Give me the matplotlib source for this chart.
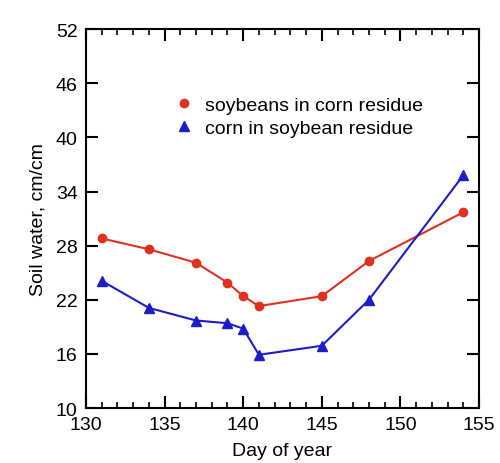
import matplotlib
matplotlib.use("Agg")
import matplotlib.pyplot as plt
from matplotlib.ticker import MultipleLocator

plt.rcParams['font.family'] = ['Liberation Sans', 'DejaVu Sans']

days = [131, 134, 137, 139, 140, 141, 145, 148, 154]
soy_in_corn = [28.8, 27.6, 26.1, 23.9, 22.4, 21.3, 22.4, 26.3, 31.7]
corn_in_soy = [24.1, 21.1, 19.7, 19.4, 18.8, 15.9, 16.9, 22.0, 35.8]
xticks = [130, 135, 140, 145, 150, 155]
yticks = [10, 16, 22, 28, 34, 40, 46, 52]

fig = plt.figure(figsize=(5.0, 4.64), dpi=100)
ax = fig.add_axes([0.172, 0.1185, 0.786, 0.8165])

ax.plot(days, soy_in_corn, color='#E0301E', marker='o', markersize=6, lw=1.5,
        label='soybeans in corn residue')
ax.plot(days, corn_in_soy, color='#1C1CC8', marker='^', markersize=7.5, lw=1.5,
        label='corn in soybean residue')

ax.set_xlim(130, 155)
ax.set_ylim(10, 52)
ax.set_xticks(xticks)
ax.set_yticks(yticks)
ax.xaxis.set_minor_locator(MultipleLocator(1))
ax.tick_params(axis='both', which='major', direction='in', length=8.5, width=1.5,
               labelsize=14, top=True, right=True, pad=6)
ax.tick_params(axis='x', which='minor', direction='in', length=4.5, width=1.2, top=True)
for s in ax.spines.values():
    s.set_linewidth(1.5)

ax.set_xlabel('Day of year', fontsize=14, labelpad=6)
ax.set_ylabel('Soil water, cm/cm', fontsize=14, labelpad=7)

leg = ax.legend(loc='upper left', bbox_to_anchor=(0.205, 0.843), frameon=False,
                fontsize=14, handlelength=1.0, handletextpad=0.6, labelspacing=0.25,
                borderaxespad=0)
for h in leg.legend_handles:
    h.set_linestyle('none')

fig.savefig('out.png', dpi=100)
